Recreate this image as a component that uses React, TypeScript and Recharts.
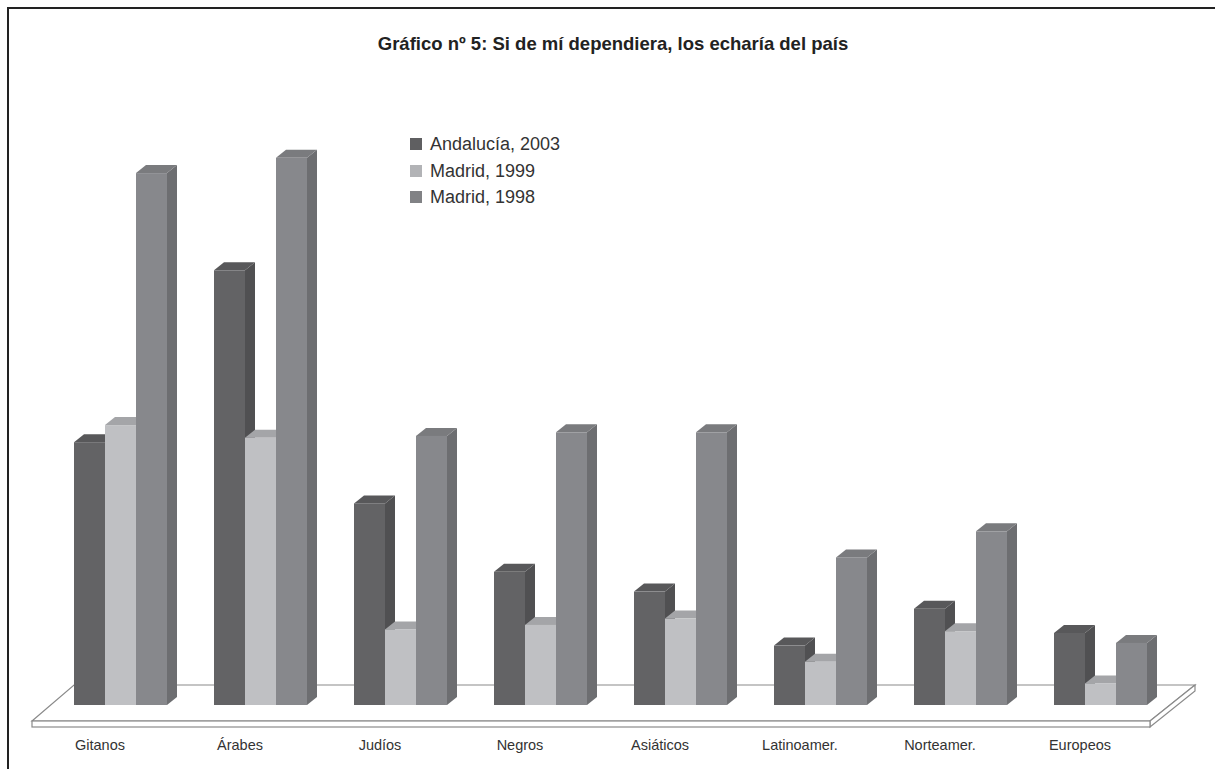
import { BarChart, Bar, XAxis, YAxis, ReferenceArea } from 'recharts';

const CATEGORIES = ['Gitanos', 'Árabes', 'Judíos', 'Negros', 'Asiáticos', 'Latinoamer.', 'Norteamer.', 'Europeos'];
const ANDALUCIA_2003 = [29.2, 48.3, 22.4, 14.8, 12.6, 6.6, 10.7, 8.0];
const MADRID_1999 = [31.1, 29.7, 8.4, 8.9, 9.6, 4.8, 8.2, 2.4];
const MADRID_1998 = [59.1, 60.8, 29.9, 30.3, 30.3, 16.4, 19.3, 6.9];

const SERIES = [
  { key: 'a2003', name: 'Andalucía, 2003', front: '#636365', top: '#58585a', side: '#505052', legend: '#5f5f61' },
  { key: 'm1999', name: 'Madrid, 1999', front: '#bfc0c3', top: '#a4a5a8', side: '#9d9ea1', legend: '#b2b3b6' },
  { key: 'm1998', name: 'Madrid, 1998', front: '#87888c', top: '#7a7b7e', side: '#6d6e71', legend: '#818285' },
];

const data = CATEGORIES.map((c, i) => ({
  name: c,
  a2003: ANDALUCIA_2003[i],
  m1999: MADRID_1999[i],
  m1998: MADRID_1998[i],
}));

const DX = 10;
const DY = 8;
const FONT = '"Liberation Sans", Arial, sans-serif';

function makeBox(s: typeof SERIES[number]) {
  return (props: any) => {
    const { x, y, width: w, height: h } = props;
    if (!h || h <= 0) return <g />;
    return (
      <g>
        <polygon
          points={`${x + w},${y} ${x + w + DX},${y - DY} ${x + w + DX},${y + h - DY} ${x + w},${y + h}`}
          fill={s.side}
        />
        <polygon
          points={`${x},${y} ${x + DX},${y - DY} ${x + w + DX},${y - DY} ${x + w},${y}`}
          fill={s.top}
        />
        <rect x={x} y={y} width={w} height={h} fill={s.front} />
      </g>
    );
  };
}

// the 3D floor slab under the bars
function Floor(props: any) {
  const { x, y, height, width } = props;
  const base = y + height;
  const fy = base + 16;
  const by = base - 20;
  const fl = x - 18;
  const fr = x + width - 20;
  const bl = x + 24;
  const br = x + width + 25;
  const t = 6;
  const stroke = '#8a8a8a';
  return (
    <g>
      <polygon points={`${fl},${fy} ${bl},${by} ${br},${by} ${fr},${fy}`} fill="#fff" stroke={stroke} strokeWidth={1.2} />
      <polygon points={`${fr},${fy} ${br},${by} ${br},${by + t} ${fr},${fy + t}`} fill="#fff" stroke={stroke} strokeWidth={1.2} />
      <rect x={fl} y={fy} width={fr - fl} height={t} fill="#fff" stroke={stroke} strokeWidth={1.2} />
    </g>
  );
}

function CategoryTick({ x, y, payload }: any) {
  return (
    <text x={x - 20} y={y + 37} textAnchor="middle" fontSize={14.5} fill="#333" fontFamily={FONT}>
      {payload.value}
    </text>
  );
}

export default function App() {
  return (
    <div style={{ position: 'absolute', left: 0, top: 0, width: 1215, height: 769, background: '#fff', overflow: 'hidden' }}>
      <div
        style={{
          position: 'absolute', left: 7, top: 7, width: 1300, height: 900,
          borderTop: '2px solid #222', borderLeft: '2px solid #222',
        }}
      />
      <div
        style={{
          position: 'absolute', left: 0, top: 33, width: 1226, textAlign: 'center',
          fontFamily: FONT, fontWeight: 'bold', fontSize: 18.5, color: '#222',
        }}
      >
        Gráfico nº 5: Si de mí dependiera, los echaría del país
      </div>
      <div style={{ position: 'absolute', left: 0, top: 0 }}>
        <BarChart
          width={1215}
          height={769}
          data={data}
          margin={{ top: 75, right: 45, bottom: 34, left: 50 }}
          barGap={0}
          barSize={31}
        >
          <XAxis dataKey="name" tickLine={false} axisLine={false} tick={<CategoryTick />} interval={0} />
          <YAxis hide domain={[0, 70]} />
          <ReferenceArea y1={0} y2={1} ifOverflow="visible" shape={<Floor />} />
          {SERIES.map(s => (
            <Bar key={s.key} dataKey={s.key} name={s.name} fill={s.front} shape={makeBox(s)} isAnimationActive={false} />
          ))}
        </BarChart>
      </div>
      <div
        style={{
          position: 'absolute', left: 410, top: 131,
          fontFamily: FONT, fontSize: 18, color: '#333', lineHeight: '26.5px',
        }}
      >
        {SERIES.map(s => (
          <div key={s.key} style={{ display: 'flex', alignItems: 'center' }}>
            <span style={{ width: 12, height: 12, background: s.legend, display: 'inline-block', marginRight: 8 }} />
            <span>{s.name}</span>
          </div>
        ))}
      </div>
    </div>
  );
}
